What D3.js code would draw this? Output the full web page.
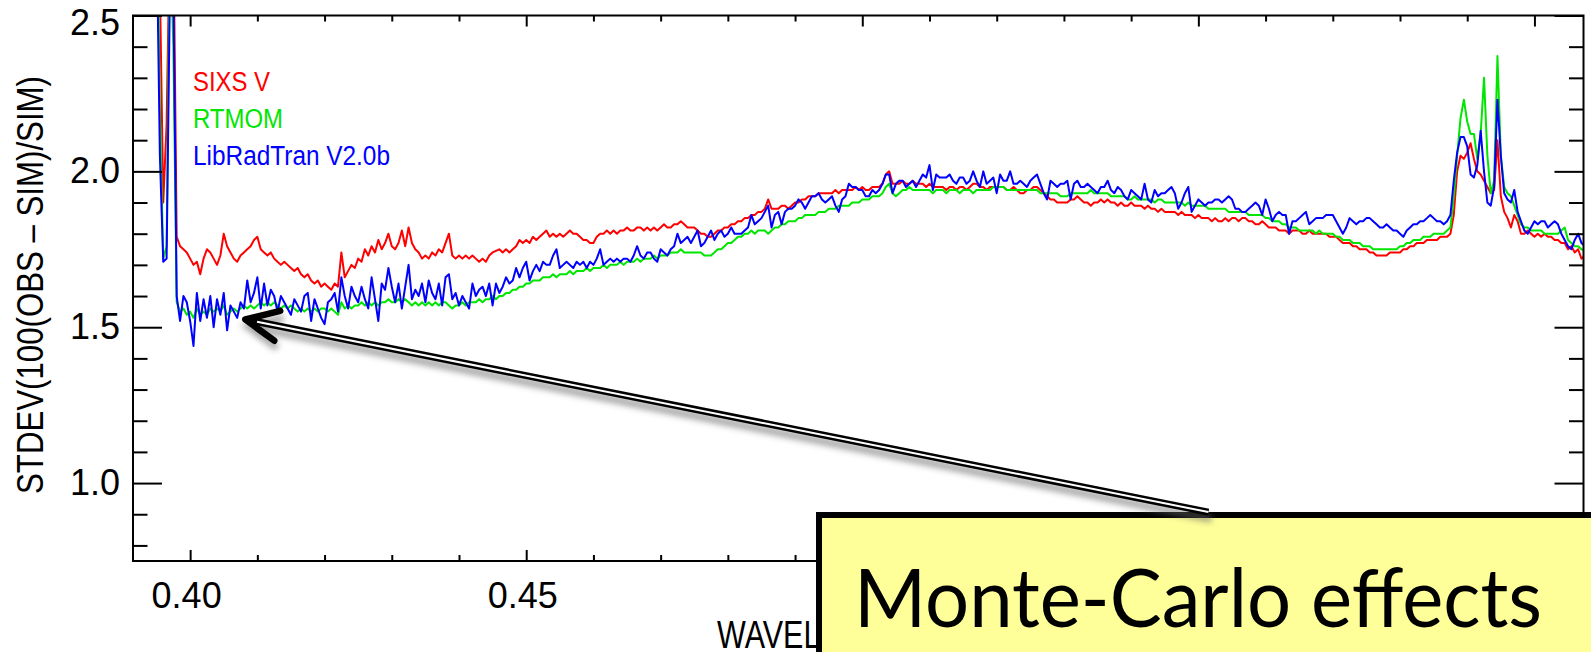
<!DOCTYPE html>
<html><head><meta charset="utf-8">
<script src="https://cdn.jsdelivr.net/npm/d3@7"></script>
<style>html,body{margin:0;padding:0;background:#fff;overflow:hidden}</style>
</head><body>
<svg id="chart" width="1591" height="652"></svg>
<script>
// ---------- DATA ----------
const waveStart = 0.3950, waveStep = 0.0005;   // wavelength grid (µm)
const sixsV = [
3.0,2.6,1.90,2.15,2.8,2.8,1.79,1.76,1.75,1.74,
1.72,1.70,1.71,1.67,1.72,1.75,1.74,1.72,1.70,1.73,
1.80,1.76,1.74,1.72,1.71,1.73,1.74,1.75,1.76,1.78,
1.79,1.75,1.74,1.73,1.74,1.72,1.71,1.70,1.71,1.70,
1.69,1.68,1.69,1.67,1.66,1.67,1.65,1.64,1.65,1.63,
1.64,1.63,1.62,1.64,1.63,1.74,1.66,1.68,1.70,1.69,
1.72,1.71,1.75,1.73,1.76,1.74,1.78,1.75,1.77,1.80,
1.76,1.75,1.77,1.81,1.76,1.82,1.77,1.75,1.74,1.72,
1.73,1.72,1.74,1.73,1.75,1.74,1.77,1.80,1.73,1.72,
1.73,1.72,1.73,1.72,1.73,1.72,1.71,1.72,1.71,1.73,
1.74,1.745,1.75,1.74,1.75,1.74,1.75,1.76,1.78,1.77,
1.78,1.77,1.79,1.78,1.79,1.80,1.81,1.79,1.80,1.79,
1.80,1.79,1.80,1.81,1.80,1.80,1.79,1.78,1.78,1.77,
1.77,1.79,1.80,1.80,1.81,1.80,1.81,1.80,1.81,1.81,
1.82,1.81,1.81,1.82,1.82,1.81,1.82,1.81,1.82,1.81,
1.82,1.83,1.82,1.82,1.83,1.83,1.84,1.83,1.82,1.82,
1.82,1.81,1.80,1.80,1.79,1.79,1.80,1.81,1.81,1.82,
1.82,1.83,1.83,1.84,1.84,1.85,1.85,1.86,1.86,1.87,
1.87,1.88,1.91,1.88,1.88,1.88,1.89,1.89,1.88,1.89,
1.90,1.90,1.91,1.91,1.92,1.92,1.92,1.93,1.93,1.93,
1.93,1.93,1.94,1.93,1.94,1.94,1.94,1.94,1.95,1.94,
1.95,1.94,1.94,1.95,1.95,1.95,1.96,1.99,2.00,1.96,
1.96,1.96,1.97,1.96,1.96,1.97,1.96,1.96,1.96,1.95,
1.96,1.95,1.95,1.95,1.95,1.94,1.95,1.95,1.94,1.95,
1.95,1.94,1.95,1.96,1.96,1.95,1.95,1.94,1.95,1.95,
1.95,1.95,1.95,1.94,1.94,1.95,1.94,1.93,1.93,1.94,
1.94,1.95,1.95,1.94,1.93,1.92,1.91,1.91,1.90,1.90,
1.90,1.90,1.91,1.91,1.92,1.91,1.90,1.90,1.89,1.90,
1.90,1.91,1.90,1.91,1.90,1.90,1.89,1.90,1.89,1.89,
1.90,1.89,1.89,1.89,1.88,1.89,1.88,1.88,1.87,1.88,
1.87,1.87,1.87,1.87,1.86,1.87,1.86,1.86,1.86,1.85,
1.86,1.85,1.85,1.85,1.84,1.85,1.84,1.84,1.85,1.84,
1.85,1.85,1.84,1.85,1.85,1.84,1.84,1.83,1.83,1.84,
1.83,1.82,1.82,1.82,1.81,1.81,1.81,1.80,1.81,1.81,
1.81,1.80,1.80,1.81,1.80,1.80,1.80,1.80,1.80,1.79,
1.79,1.79,1.78,1.77,1.77,1.77,1.76,1.76,1.75,1.75,
1.75,1.74,1.74,1.73,1.73,1.73,1.73,1.74,1.74,1.74,
1.74,1.75,1.75,1.76,1.76,1.77,1.77,1.77,1.78,1.78,
1.78,1.78,1.79,1.79,1.79,1.80,1.86,2.00,2.05,2.04,
2.06,2.09,2.04,2.00,1.99,1.97,1.95,1.93,1.94,2.10,
1.92,1.87,1.85,1.82,1.86,1.84,1.80,1.80,1.81,1.80,
1.79,1.80,1.79,1.80,1.79,1.79,1.78,1.78,1.77,1.77,
1.75,1.76,1.74,1.75,1.72,1.73];
const rtmom = [
3.0,2.2,1.72,1.76,2.8,2.4,1.58,1.55,1.56,1.54,
1.55,1.53,1.56,1.54,1.55,1.54,1.56,1.55,1.56,1.55,
1.57,1.54,1.55,1.56,1.55,1.56,1.57,1.56,1.57,1.56,
1.57,1.58,1.57,1.58,1.57,1.58,1.57,1.56,1.57,1.56,
1.57,1.56,1.55,1.56,1.55,1.56,1.55,1.56,1.55,1.56,
1.56,1.55,1.56,1.55,1.54,1.58,1.56,1.57,1.56,1.57,
1.57,1.58,1.57,1.58,1.57,1.58,1.57,1.58,1.58,1.59,
1.58,1.58,1.59,1.58,1.59,1.58,1.57,1.58,1.57,1.58,
1.57,1.58,1.57,1.58,1.57,1.58,1.58,1.57,1.56,1.57,
1.57,1.58,1.57,1.58,1.58,1.58,1.59,1.58,1.59,1.59,
1.60,1.59,1.60,1.60,1.61,1.61,1.62,1.62,1.63,1.63,
1.64,1.64,1.65,1.65,1.65,1.66,1.66,1.66,1.67,1.66,
1.67,1.67,1.67,1.68,1.67,1.68,1.68,1.68,1.69,1.68,
1.69,1.69,1.69,1.70,1.69,1.70,1.70,1.70,1.71,1.70,
1.71,1.71,1.71,1.72,1.71,1.72,1.72,1.72,1.73,1.72,
1.73,1.73,1.73,1.74,1.74,1.74,1.75,1.74,1.74,1.74,
1.74,1.74,1.74,1.73,1.73,1.73,1.74,1.75,1.75,1.76,
1.77,1.77,1.78,1.79,1.79,1.80,1.80,1.81,1.80,1.81,
1.81,1.81,1.80,1.81,1.82,1.82,1.83,1.83,1.84,1.84,
1.84,1.85,1.85,1.86,1.86,1.86,1.86,1.87,1.87,1.87,
1.88,1.88,1.88,1.89,1.89,1.89,1.89,1.90,1.90,1.90,
1.91,1.91,1.91,1.92,1.92,1.92,1.93,1.95,1.96,1.93,
1.92,1.93,1.94,1.94,1.95,1.94,1.94,1.94,1.94,1.94,
1.94,1.93,1.94,1.94,1.94,1.93,1.94,1.94,1.94,1.93,
1.94,1.94,1.94,1.93,1.94,1.94,1.94,1.94,1.94,1.95,
1.95,1.95,1.95,1.94,1.94,1.94,1.94,1.94,1.94,1.94,
1.94,1.94,1.94,1.93,1.93,1.93,1.93,1.93,1.93,1.92,
1.92,1.92,1.93,1.93,1.93,1.93,1.93,1.93,1.94,1.93,
1.93,1.93,1.93,1.93,1.92,1.92,1.92,1.92,1.92,1.91,
1.91,1.92,1.91,1.91,1.91,1.91,1.91,1.90,1.91,1.91,
1.90,1.90,1.90,1.90,1.90,1.90,1.89,1.90,1.89,1.89,
1.89,1.89,1.89,1.88,1.88,1.88,1.88,1.88,1.88,1.87,
1.87,1.87,1.87,1.87,1.87,1.86,1.86,1.86,1.86,1.86,
1.85,1.85,1.84,1.84,1.84,1.83,1.83,1.82,1.82,1.82,
1.81,1.81,1.81,1.81,1.81,1.80,1.81,1.80,1.80,1.80,
1.80,1.79,1.79,1.78,1.78,1.78,1.77,1.77,1.77,1.76,
1.76,1.76,1.75,1.75,1.75,1.75,1.75,1.75,1.75,1.75,
1.76,1.76,1.77,1.77,1.78,1.78,1.78,1.79,1.79,1.79,
1.80,1.80,1.80,1.80,1.81,1.82,1.92,2.05,2.17,2.23,
2.16,2.12,2.12,2.04,2.12,2.30,2.05,1.93,1.97,2.37,
2.05,1.95,1.93,1.92,1.89,1.86,1.83,1.82,1.82,1.81,
1.81,1.81,1.81,1.80,1.80,1.80,1.80,1.80,1.81,1.82,
1.78,1.77,1.76,1.76,1.75,1.745];
const libRadTran = [
2.8,2.05,1.71,1.72,2.6,2.6,1.60,1.52,1.60,1.58,
1.52,1.44,1.61,1.52,1.59,1.53,1.60,1.50,1.59,1.54,
1.61,1.49,1.57,1.55,1.53,1.58,1.56,1.65,1.58,1.61,
1.66,1.56,1.64,1.57,1.62,1.60,1.55,1.60,1.58,1.56,
1.54,1.59,1.57,1.55,1.60,1.61,1.52,1.59,1.56,1.53,
1.51,1.58,1.59,1.61,1.55,1.66,1.60,1.56,1.63,1.60,
1.58,1.63,1.59,1.56,1.66,1.59,1.52,1.64,1.62,1.69,
1.63,1.58,1.64,1.56,1.63,1.70,1.59,1.62,1.60,1.64,
1.58,1.65,1.61,1.59,1.64,1.57,1.66,1.67,1.59,1.61,
1.57,1.60,1.58,1.56,1.64,1.60,1.62,1.63,1.60,1.64,
1.57,1.64,1.61,1.63,1.66,1.64,1.65,1.69,1.66,1.69,
1.71,1.65,1.68,1.70,1.68,1.71,1.70,1.70,1.73,1.75,
1.69,1.70,1.71,1.70,1.69,1.71,1.70,1.71,1.69,1.71,
1.70,1.72,1.75,1.70,1.71,1.72,1.71,1.72,1.71,1.72,
1.72,1.71,1.73,1.76,1.73,1.72,1.74,1.74,1.72,1.71,
1.75,1.74,1.73,1.75,1.76,1.80,1.77,1.78,1.79,1.77,
1.79,1.81,1.76,1.77,1.79,1.81,1.78,1.80,1.81,1.79,
1.80,1.82,1.80,1.80,1.80,1.81,1.82,1.86,1.83,1.84,
1.85,1.87,1.89,1.82,1.86,1.87,1.83,1.87,1.88,1.88,
1.89,1.91,1.90,1.88,1.90,1.92,1.92,1.93,1.91,1.90,
1.91,1.92,1.89,1.87,1.91,1.92,1.96,1.95,1.95,1.94,
1.94,1.92,1.92,1.94,1.93,1.94,1.96,1.99,1.99,1.93,
1.96,1.97,1.97,1.95,1.96,1.97,1.95,1.97,1.99,1.98,
2.02,1.94,1.99,1.98,1.98,1.98,1.99,1.97,1.96,1.98,
1.98,1.96,1.97,2.00,1.97,1.95,2.00,1.96,1.97,1.98,
1.93,1.99,1.97,1.97,2.00,1.96,1.96,1.97,1.96,1.95,
1.97,1.98,1.99,1.96,1.93,1.91,1.97,1.96,1.95,1.96,
1.96,1.97,1.91,1.96,1.97,1.95,1.95,1.96,1.95,1.94,
1.93,1.95,1.95,1.97,1.94,1.93,1.95,1.94,1.92,1.91,
1.94,1.93,1.92,1.91,1.96,1.91,1.90,1.94,1.92,1.93,
1.93,1.94,1.95,1.93,1.88,1.90,1.93,1.95,1.87,1.89,
1.91,1.90,1.89,1.90,1.90,1.91,1.91,1.90,1.91,1.92,
1.91,1.88,1.88,1.87,1.87,1.88,1.89,1.90,1.89,1.86,
1.91,1.88,1.84,1.86,1.87,1.86,1.86,1.80,1.84,1.84,
1.85,1.86,1.87,1.83,1.84,1.85,1.85,1.85,1.86,1.86,
1.86,1.84,1.82,1.80,1.82,1.85,1.84,1.83,1.84,1.84,
1.85,1.85,1.84,1.83,1.82,1.82,1.83,1.82,1.81,1.81,
1.80,1.79,1.81,1.82,1.83,1.83,1.84,1.84,1.85,1.86,
1.85,1.84,1.84,1.83,1.84,1.86,1.97,2.06,2.11,2.11,
2.08,1.99,1.98,2.02,2.13,2.00,1.90,1.89,1.95,2.23,
2.05,1.93,1.91,1.90,1.94,1.87,1.84,1.81,1.80,1.82,
1.84,1.83,1.84,1.84,1.82,1.83,1.84,1.83,1.80,1.78,
1.76,1.75,1.78,1.80,1.77,1.76];

const seriesNames  = ["SIXS V", "RTMOM", "LibRadTran V2.0b"];
const seriesColors = ["#ff0000", "#00e600", "#0000ff"];
const xMajorTicks = [0.40, 0.45, 0.50, 0.55, 0.60];
const xMinorTicks = [0.41,0.42,0.43,0.44,0.46,0.47,0.48,0.49,0.51,0.52,0.53,0.54,0.56,0.57,0.58,0.59];
const yMajorTicks = [1.0, 1.5, 2.0, 2.5];
const yMinorTicks = [0.8,0.9,1.1,1.2,1.3,1.4,1.6,1.7,1.8,1.9,2.1,2.2,2.3,2.4];
const xTitle = "WAVELENGTH (\u03bcm)";
const yTitle = "STDEV(100(OBS \u2013 SIM)/SIM)";
const calloutText = "Monte-Carlo effects";
const arrowTip  = [0.4082, 1.525];   // data coords
const arrowTail = [0.5515, 0.907];

// ---------- LAYOUT ----------
const M = {left: 133, right: 1583.5, top: 15.5, bottom: 561};
const svg = d3.select("#chart");
const x = d3.scaleLinear().domain([0.3915, 0.6073]).range([M.left, M.right]);
const y = d3.scaleLinear().domain([0.75, 2.5]).range([M.bottom, M.top]);
const FONT = "'Liberation Sans', Arial, Helvetica, sans-serif";

const defs = svg.append("defs");
defs.append("clipPath").attr("id", "plotClip").append("rect")
  .attr("x", M.left).attr("y", M.top).attr("width", M.right - M.left).attr("height", M.bottom - M.top);
defs.append("filter").attr("id", "blur").attr("x", "-5%").attr("y", "-30%").attr("width", "110%").attr("height", "160%")
  .append("feGaussianBlur").attr("stdDeviation", 3);

// ---------- LINES ----------
const line = d3.line().x((d, i) => x(waveStart + i * waveStep)).y(d => y(d));
const gLines = svg.append("g").attr("clip-path", "url(#plotClip)");
[sixsV, rtmom, libRadTran].forEach((s, k) => {
  gLines.append("path").datum(s).attr("d", line)
    .attr("fill", "none").attr("stroke", seriesColors[k]).attr("stroke-width", 2)
    .attr("stroke-linejoin", "round");
});

// ---------- AXES ----------
function addAxis(axis, tx, ty) {
  const g = svg.append("g").attr("transform", `translate(${tx},${ty})`).call(axis);
  g.select(".domain").remove();
  g.selectAll(".tick line").attr("stroke", "#000").attr("stroke-width", 2);
  g.selectAll(".tick text").attr("font-family", FONT).attr("font-size", 36).attr("fill", "#000");
  return g;
}
const gl = addAxis(d3.axisLeft(y).tickValues(yMajorTicks).tickSize(-29).tickPadding(13).tickFormat(d3.format(".1f")), M.left, 0);
gl.selectAll(".tick").filter(d => y(d) - M.top < 5).select("text").attr("y", 7.5);
addAxis(d3.axisLeft(y).tickValues(yMinorTicks).tickSize(-14.5).tickFormat(""), M.left, 0);
addAxis(d3.axisRight(y).tickValues(yMajorTicks).tickSize(-29).tickFormat(""), M.right, 0);
addAxis(d3.axisRight(y).tickValues(yMinorTicks).tickSize(-14.5).tickFormat(""), M.right, 0);
const gb = addAxis(d3.axisBottom(x).tickValues(xMajorTicks).tickSize(-11).tickPadding(21.5).tickFormat(d3.format(".2f")), 0, M.bottom);
gb.selectAll(".tick text").attr("dx", -4);
addAxis(d3.axisBottom(x).tickValues(xMinorTicks).tickSize(-6).tickFormat(""), 0, M.bottom);
addAxis(d3.axisTop(x).tickValues(xMajorTicks).tickSize(-11).tickFormat(""), 0, M.top);
addAxis(d3.axisTop(x).tickValues(xMinorTicks).tickSize(-6).tickFormat(""), 0, M.top);

svg.append("rect").attr("x", M.left).attr("y", M.top)
  .attr("width", M.right - M.left).attr("height", M.bottom - M.top)
  .attr("fill", "none").attr("stroke", "#000").attr("stroke-width", 2);

// ---------- TITLES ----------
svg.append("text").attr("transform", `translate(43,285) rotate(-90)`)
  .attr("text-anchor", "middle").attr("font-family", FONT).attr("font-size", 37)
  .attr("textLength", 418).attr("lengthAdjust", "spacingAndGlyphs").text(yTitle);
svg.append("text").attr("x", 717).attr("y", 648)
  .attr("font-family", FONT).attr("font-size", 38)
  .attr("textLength", 282).attr("lengthAdjust", "spacingAndGlyphs").text(xTitle);

// ---------- LEGEND ----------
const legendLen = [77, 90, 197];
seriesNames.forEach((n, k) => {
  svg.append("text").attr("x", 193).attr("y", 90.7 + k * 37.2)
    .attr("font-family", FONT).attr("font-size", 27).attr("fill", seriesColors[k])
    .attr("textLength", legendLen[k]).attr("lengthAdjust", "spacingAndGlyphs").text(n);
});

// ---------- CALLOUT ----------
svg.append("rect").attr("x", 819).attr("y", 515).attr("width", 900).attr("height", 300)
  .attr("fill", "#ffff99").attr("stroke", "#000").attr("stroke-width", 6);
svg.append("text").attr("x", 854).attr("y", 627)
  .attr("font-family", "Lato, 'Open Sans', sans-serif").attr("font-size", 82).attr("fill", "#000")
  .attr("textLength", 688).attr("lengthAdjust", "spacingAndGlyphs").text(calloutText);

// ---------- ARROW ----------
const tx = x(arrowTip[0]), ty = y(arrowTip[1]);
const ex = x(arrowTail[0]), ey = y(arrowTail[1]);
const L = Math.hypot(ex - tx, ey - ty), ux = (ex - tx) / L, uy = (ey - ty) / L;
function rot(a) { return [ux * Math.cos(a) - uy * Math.sin(a), ux * Math.sin(a) + uy * Math.cos(a)]; }
const bl = 36, b1 = rot(-25 * Math.PI / 180), b2 = rot(25 * Math.PI / 180);
const headPts = [[tx + b1[0] * bl, ty + b1[1] * bl], [tx, ty], [tx + b2[0] * bl, ty + b2[1] * bl]];
const sx = tx + ux * 4, sy = ty + uy * 4;
const shadow = svg.append("g").attr("filter", "url(#blur)").attr("transform", "translate(3,7)").attr("opacity", 0.6);
shadow.append("line").attr("x1", sx).attr("y1", sy).attr("x2", ex).attr("y2", ey).attr("stroke", "#666").attr("stroke-width", 7);
shadow.append("polyline").attr("points", headPts.join(" ")).attr("fill", "none").attr("stroke", "#666").attr("stroke-width", 7);
svg.append("line").attr("x1", sx).attr("y1", sy).attr("x2", ex).attr("y2", ey)
  .attr("stroke", "#000").attr("stroke-width", 7);
svg.append("line").attr("x1", tx + ux * 12).attr("y1", ty + uy * 12).attr("x2", ex).attr("y2", ey)
  .attr("stroke", "#fff").attr("stroke-width", 2);
svg.append("polyline").attr("points", headPts.join(" ")).attr("fill", "none")
  .attr("stroke", "#000").attr("stroke-width", 6.5).attr("stroke-linecap", "round").attr("stroke-linejoin", "round");
</script>
</body></html>
